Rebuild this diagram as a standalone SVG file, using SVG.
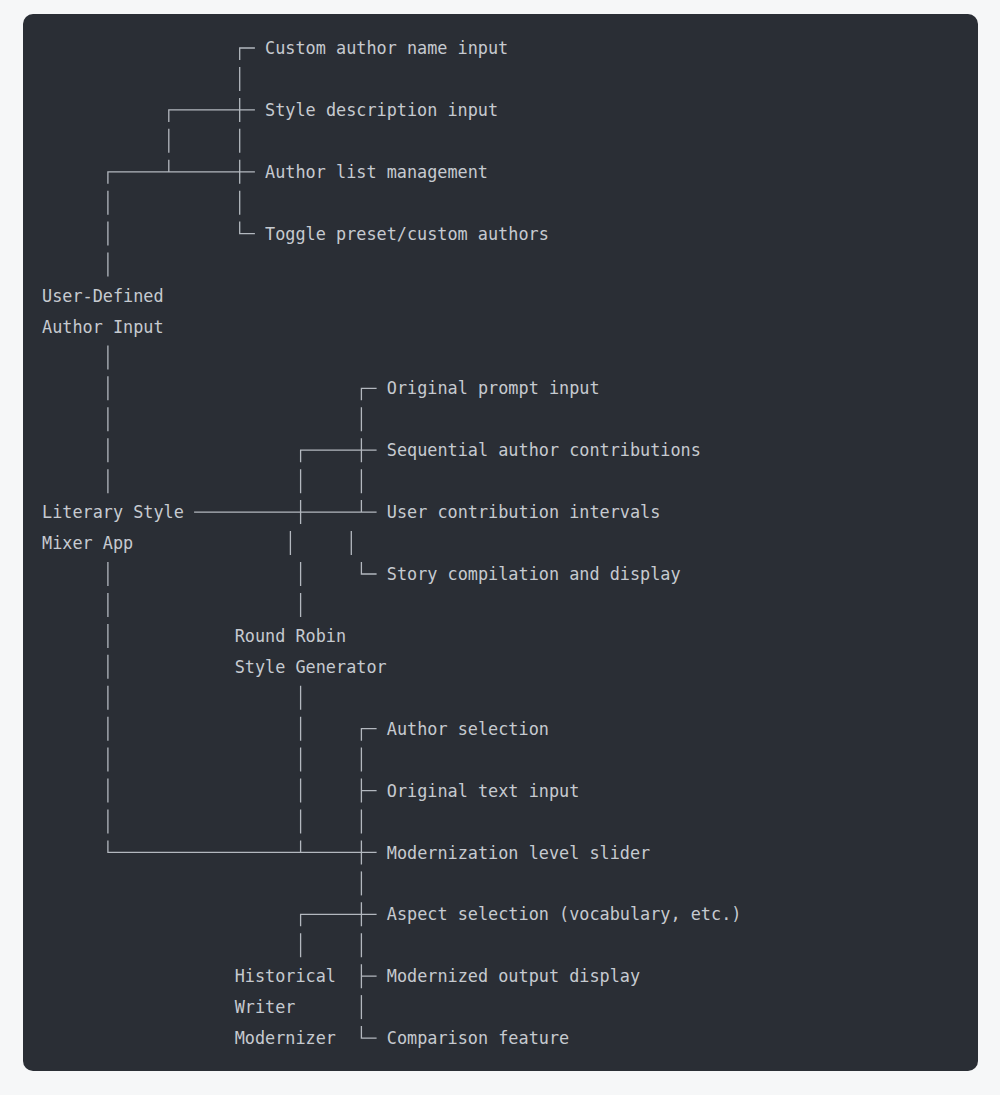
<svg xmlns="http://www.w3.org/2000/svg" width="1000" height="1095" viewBox="0 0 1000 1095">
<style>
  text { font-family: "DejaVu Sans Mono", "Liberation Mono", monospace; font-size: 16.84px; fill: #c6cad0; }
  .c { fill: none; stroke: #b3b8bf; stroke-width: 1.3; }
</style>
<rect x="0" y="0" width="1000" height="1095" fill="#f6f7f8"/>
<rect x="23" y="14" width="955" height="1057" rx="10" fill="#2a2e35"/>
<g id="diagram" transform="translate(0,1)">
<g id="connectors" class="c">
  <path d="M239.7 59V47H254.9"/>
  <path d="M239.7 66V90"/>
  <path d="M239.7 96.9V120.9M168.8 120.9V108.9H254.9"/>
  <path d="M168.8 127.8V151.8M239.7 127.8V151.8"/>
  <path d="M107.9 182.8V170.8H254.9M168.8 158.8V170.8M239.7 158.8V182.8"/>
  <path d="M107.9 189.7V213.7M239.7 189.7V213.7"/>
  <path d="M107.9 220.6V244.6M239.7 220.6V232.6H254.9"/>
  <path d="M107.9 251.6V275.6"/>
  <path d="M107.9 344.4V368.4"/>
  <path d="M107.9 375.3V399.3M361.4 399.3V387.3H376.6"/>
  <path d="M107.9 406.3V430.3M361.4 406.3V430.3"/>
  <path d="M107.9 437.2V461.2M300.6 461.2V449.2H376.6M361.4 437.2V461.2"/>
  <path d="M107.9 468.2V492.2M300.6 468.2V492.2M361.4 468.2V492.2"/>
  <path d="M194.1 511.1H376.6M300.6 499.1V523.1M361.4 499.1V511.1"/>
  <path d="M290.4 530V554M351.3 530V554"/>
  <path d="M107.9 561V585M300.6 561V585M361.4 561V573H376.6"/>
  <path d="M107.9 591.9V615.9M300.6 591.9V615.9"/>
  <path d="M107.9 622.9V646.9"/>
  <path d="M107.9 653.8V677.8"/>
  <path d="M107.9 684.7V708.7M300.6 684.7V708.7"/>
  <path d="M107.9 715.7V739.7M300.6 715.7V739.7M361.4 739.7V727.7H376.6"/>
  <path d="M107.9 746.6V770.6M300.6 746.6V770.6M361.4 746.6V770.6"/>
  <path d="M107.9 777.6V801.6M300.6 777.6V801.6M361.4 777.6V801.6M361.4 789.6H376.6"/>
  <path d="M107.9 808.5V832.5M300.6 808.5V832.5M361.4 808.5V832.5"/>
  <path d="M107.9 839.4V851.4H376.6M300.6 839.4V851.4M361.4 839.4V863.4"/>
  <path d="M361.4 870.4V894.4"/>
  <path d="M300.6 925.3V913.3H376.6M361.4 901.3V925.3"/>
  <path d="M300.6 932.3V956.3M361.4 932.3V956.3"/>
  <path d="M361.4 963.2V987.2M361.4 975.2H376.6"/>
  <path d="M361.4 994.1V1018.1"/>
  <path d="M361.4 1025.1V1037.1H376.6"/>
</g>
<g id="node-user-defined-author-input">
  <text x="42" y="300.6">User-Defined</text>
  <text x="42" y="331.6">Author Input</text>
</g>
<g id="node-custom-author-name-input"><text x="265.1" y="53.1">Custom author name input</text></g>
<g id="node-style-description-input"><text x="265.1" y="115">Style description input</text></g>
<g id="node-author-list-management"><text x="265.1" y="176.9">Author list management</text></g>
<g id="node-toggle-preset-custom-authors"><text x="265.1" y="238.8">Toggle preset/custom authors</text></g>
<g id="node-literary-style-mixer-app">
  <text x="42" y="517.2">Literary Style</text>
  <text x="42" y="548.1">Mixer App</text>
</g>
<g id="node-original-prompt-input"><text x="386.8" y="393.4">Original prompt input</text></g>
<g id="node-sequential-author-contributions"><text x="386.8" y="455.3">Sequential author contributions</text></g>
<g id="node-user-contribution-intervals"><text x="386.8" y="517.2">User contribution intervals</text></g>
<g id="node-story-compilation-and-display"><text x="386.8" y="579.1">Story compilation and display</text></g>
<g id="node-round-robin-style-generator">
  <text x="234.7" y="641">Round Robin</text>
  <text x="234.7" y="671.9">Style Generator</text>
</g>
<g id="node-author-selection"><text x="386.8" y="733.8">Author selection</text></g>
<g id="node-original-text-input"><text x="386.8" y="795.7">Original text input</text></g>
<g id="node-modernization-level-slider"><text x="386.8" y="857.5">Modernization level slider</text></g>
<g id="node-aspect-selection"><text x="386.8" y="919.4">Aspect selection (vocabulary, etc.)</text></g>
<g id="node-historical-writer-modernizer">
  <text x="234.7" y="981.3">Historical</text>
  <text x="234.7" y="1012.2">Writer</text>
  <text x="234.7" y="1043.2">Modernizer</text>
</g>
<g id="node-modernized-output-display"><text x="386.8" y="981.3">Modernized output display</text></g>
<g id="node-comparison-feature"><text x="386.8" y="1043.2">Comparison feature</text></g>
</g>
</svg>
